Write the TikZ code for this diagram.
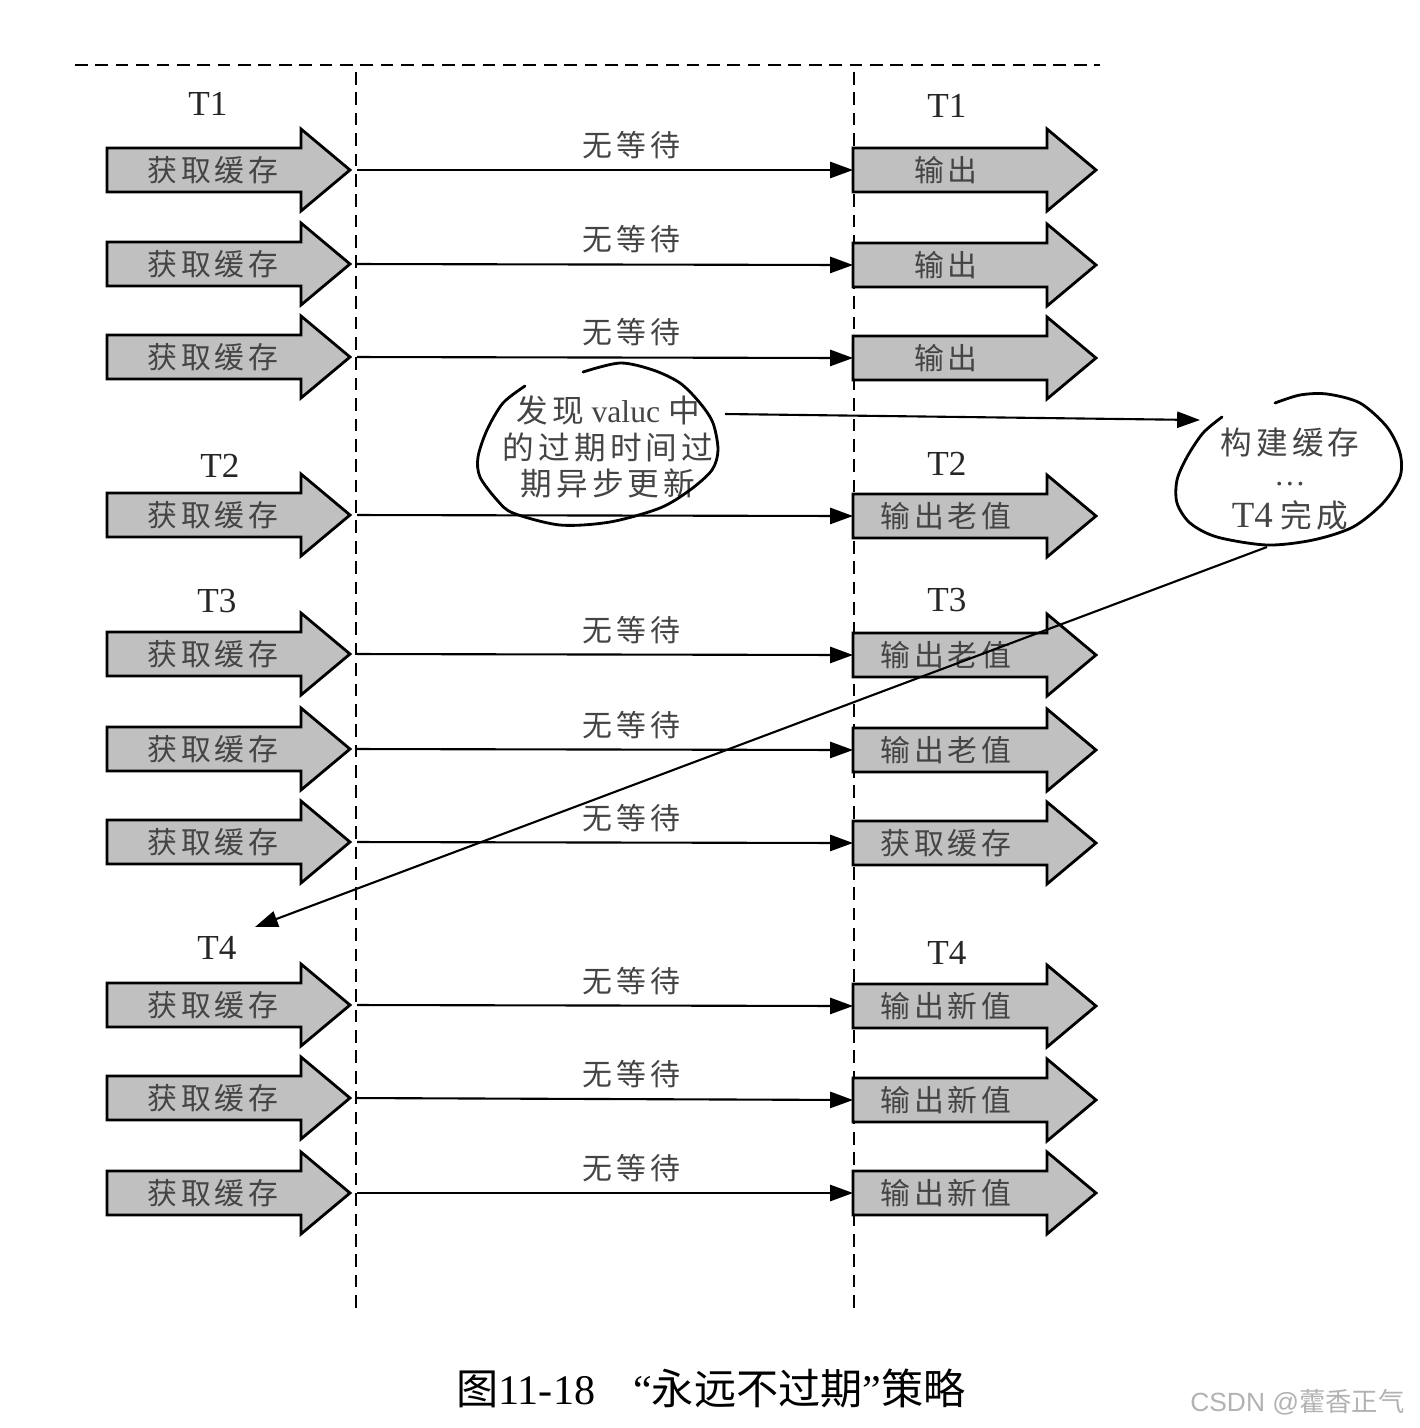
\documentclass[tikz,border=0pt]{standalone}
\usepackage{fontspec}
\setmainfont{Liberation Serif}
\newfontfamily\cjk[LetterSpace=13]{Noto Sans CJK SC}
\newfontfamily\cjkcap{Noto Sans CJK SC}
\newfontfamily\wmfont{Liberation Sans}
\usepackage{xcolor}
\definecolor{arrowfill}{RGB}{192,192,192}
\definecolor{textgray}{RGB}{68,68,68}
\definecolor{markgray}{RGB}{178,178,178}
\usepackage{tikz}
\usetikzlibrary{positioning, arrows.meta, calc}

\tikzset{
  conn/.style={semithick, -{Triangle[length=6.5pt, width=4.6pt]}},
  divider/.style={line width=0.6pt, dash pattern=on 3.6pt off 2.2pt},
  bubble/.style={thick, line cap=round},
  arrowtext/.style={font=\cjk\fontsize{8.5}{10}\selectfont, text=textgray, inner sep=0pt},
  waitlabel/.style={font=\cjk\fontsize{8.5}{10}\selectfont, text=textgray, yshift=0.25cm},
  tlabel/.style={font=\fontsize{10}{12}\selectfont, text=black!85},
  bubbletext/.style={font=\fontsize{9}{10.5}\selectfont, text=textgray, align=center},
  fatarrow/.pic={
    \draw[thick, fill=arrowfill] (0,-0.22) -- (1.94,-0.22) -- (1.94,-0.41) -- (2.43,0)
      -- (1.94,0.41) -- (1.94,0.22) -- (0,0.22) -- cycle;
    \node[arrowtext] (-label) at (#1,0) {\tikzpictext};
    \coordinate (-tail) at (0,0);
    \coordinate (-tip) at (2.43,0);
  }
}

\begin{document}
\begin{tikzpicture}
  \useasboundingbox (0,0) rectangle (14.20,-14.28);
  % time dividers
  \draw[divider] (0.75,-0.65) -- (11.00,-0.65);
  \draw[divider] (3.56,-0.72) -- (3.56,-13.10);
  \draw[divider] (8.54,-0.72) -- (8.54,-13.10);
  % request / response arrows
  \foreach \i/\yl/\yr/\rt in {1/1.70/1.70/输出, 2/2.64/2.65/输出, 3/3.57/3.58/输出,
      4/5.15/5.16/输出老值, 5/6.54/6.55/输出老值, 6/7.49/7.50/输出老值, 7/8.42/8.43/获取缓存,
      8/10.05/10.06/输出新值, 9/10.98/11.00/输出新值, 10/11.93/11.93/输出新值}{
    \pic[pic text=获取缓存] (L\i) at (1.07,-\yl) {fatarrow=1.06};
    \pic[pic text=\rt] (R\i) at (8.53,-\yr) {fatarrow=0.93};
  }
  % thread labels
  \node[tlabel] (tL1) at (2.08,-1.04) {T1};
  \node[tlabel] (tR1) at (9.47,-1.06) {T1};
  \node[tlabel] (tL2) at (2.20,-4.66) {T2};
  \node[tlabel] (tR2) at (9.47,-4.64) {T2};
  \node[tlabel] (tL3) at (2.17,-6.01) {T3};
  \node[tlabel] (tR3) at (9.47,-6.00) {T3};
  \node[tlabel] (tL4) at (2.17,-9.48) {T4};
  \node[tlabel] (tR4) at (9.47,-9.53) {T4};
  % no waiting
  \foreach \i in {1,2,3,5,6,7,8,9,10}
    \draw[conn, shorten <=2pt] (L\i-tip) -- node[waitlabel, pos=0.56] {无等待} (R\i-tail);
  \draw[conn, shorten <=2pt] (L4-tip) -- (R4-tail);
  % expired value found
  \node[bubbletext] (disc) at (6.08,-4.47)
    {{\cjk 发现} valuc {\cjk 中}\\{\cjk 的过期时间过}\\{\cjk 期异步更新}};
  \draw[bubble] plot[smooth] coordinates
    {(5.25,-3.86) (5.03,-4.03) (4.87,-4.30) (4.78,-4.57) (4.80,-4.77) (4.97,-5.00)
    (5.13,-5.13) (5.60,-5.25) (6.10,-5.22) (6.60,-5.08) (6.90,-4.90) (7.12,-4.70)
    (7.18,-4.50) (7.13,-4.23) (7.00,-4.03) (6.80,-3.83) (6.53,-3.70) (6.20,-3.63) (5.83,-3.72)};
  % rebuilding cache
  \node[bubbletext] (build) at (12.90,-4.79)
    {{\cjk 构建缓存}\\\raisebox{0.35ex}{…}\\{\fontsize{10.5}{12}\selectfont T4} {\cjk 完成}};
  \draw[bubble] plot[smooth] coordinates
    {(12.22,-4.17) (12.03,-4.33) (11.87,-4.57) (11.77,-4.80) (11.77,-5.03) (11.90,-5.23)
    (12.17,-5.37) (12.67,-5.45) (13.13,-5.40) (13.53,-5.27) (13.83,-5.03) (14.00,-4.77)
    (14.00,-4.53) (13.87,-4.27) (13.60,-4.03) (13.27,-3.94) (13.00,-3.95) (12.75,-4.03)};
  \coordinate (discout) at (7.25,-4.14);
  \coordinate (buildin) at (12.00,-4.20);
  \coordinate (buildout) at (12.67,-5.47);
  \coordinate (t4in) at (2.55,-9.27);
  \draw[conn] (discout) -- (buildin);
  \draw[conn] (buildout) -- (t4in);
  % caption
  \node[font=\fontsize{12}{14}\selectfont] (cap) at (7.11,-13.88)
    {{\cjkcap 图}11-18\hspace{0.9em}“{\cjkcap 永远不过期}”{\cjkcap 策略}};
  \node[font=\wmfont\fontsize{7.5}{9}\selectfont, text=markgray, anchor=east] (mark)
    at (14.17,-14.02) {CSDN @{\cjkcap 藿香正气}};
\end{tikzpicture}
\end{document}
